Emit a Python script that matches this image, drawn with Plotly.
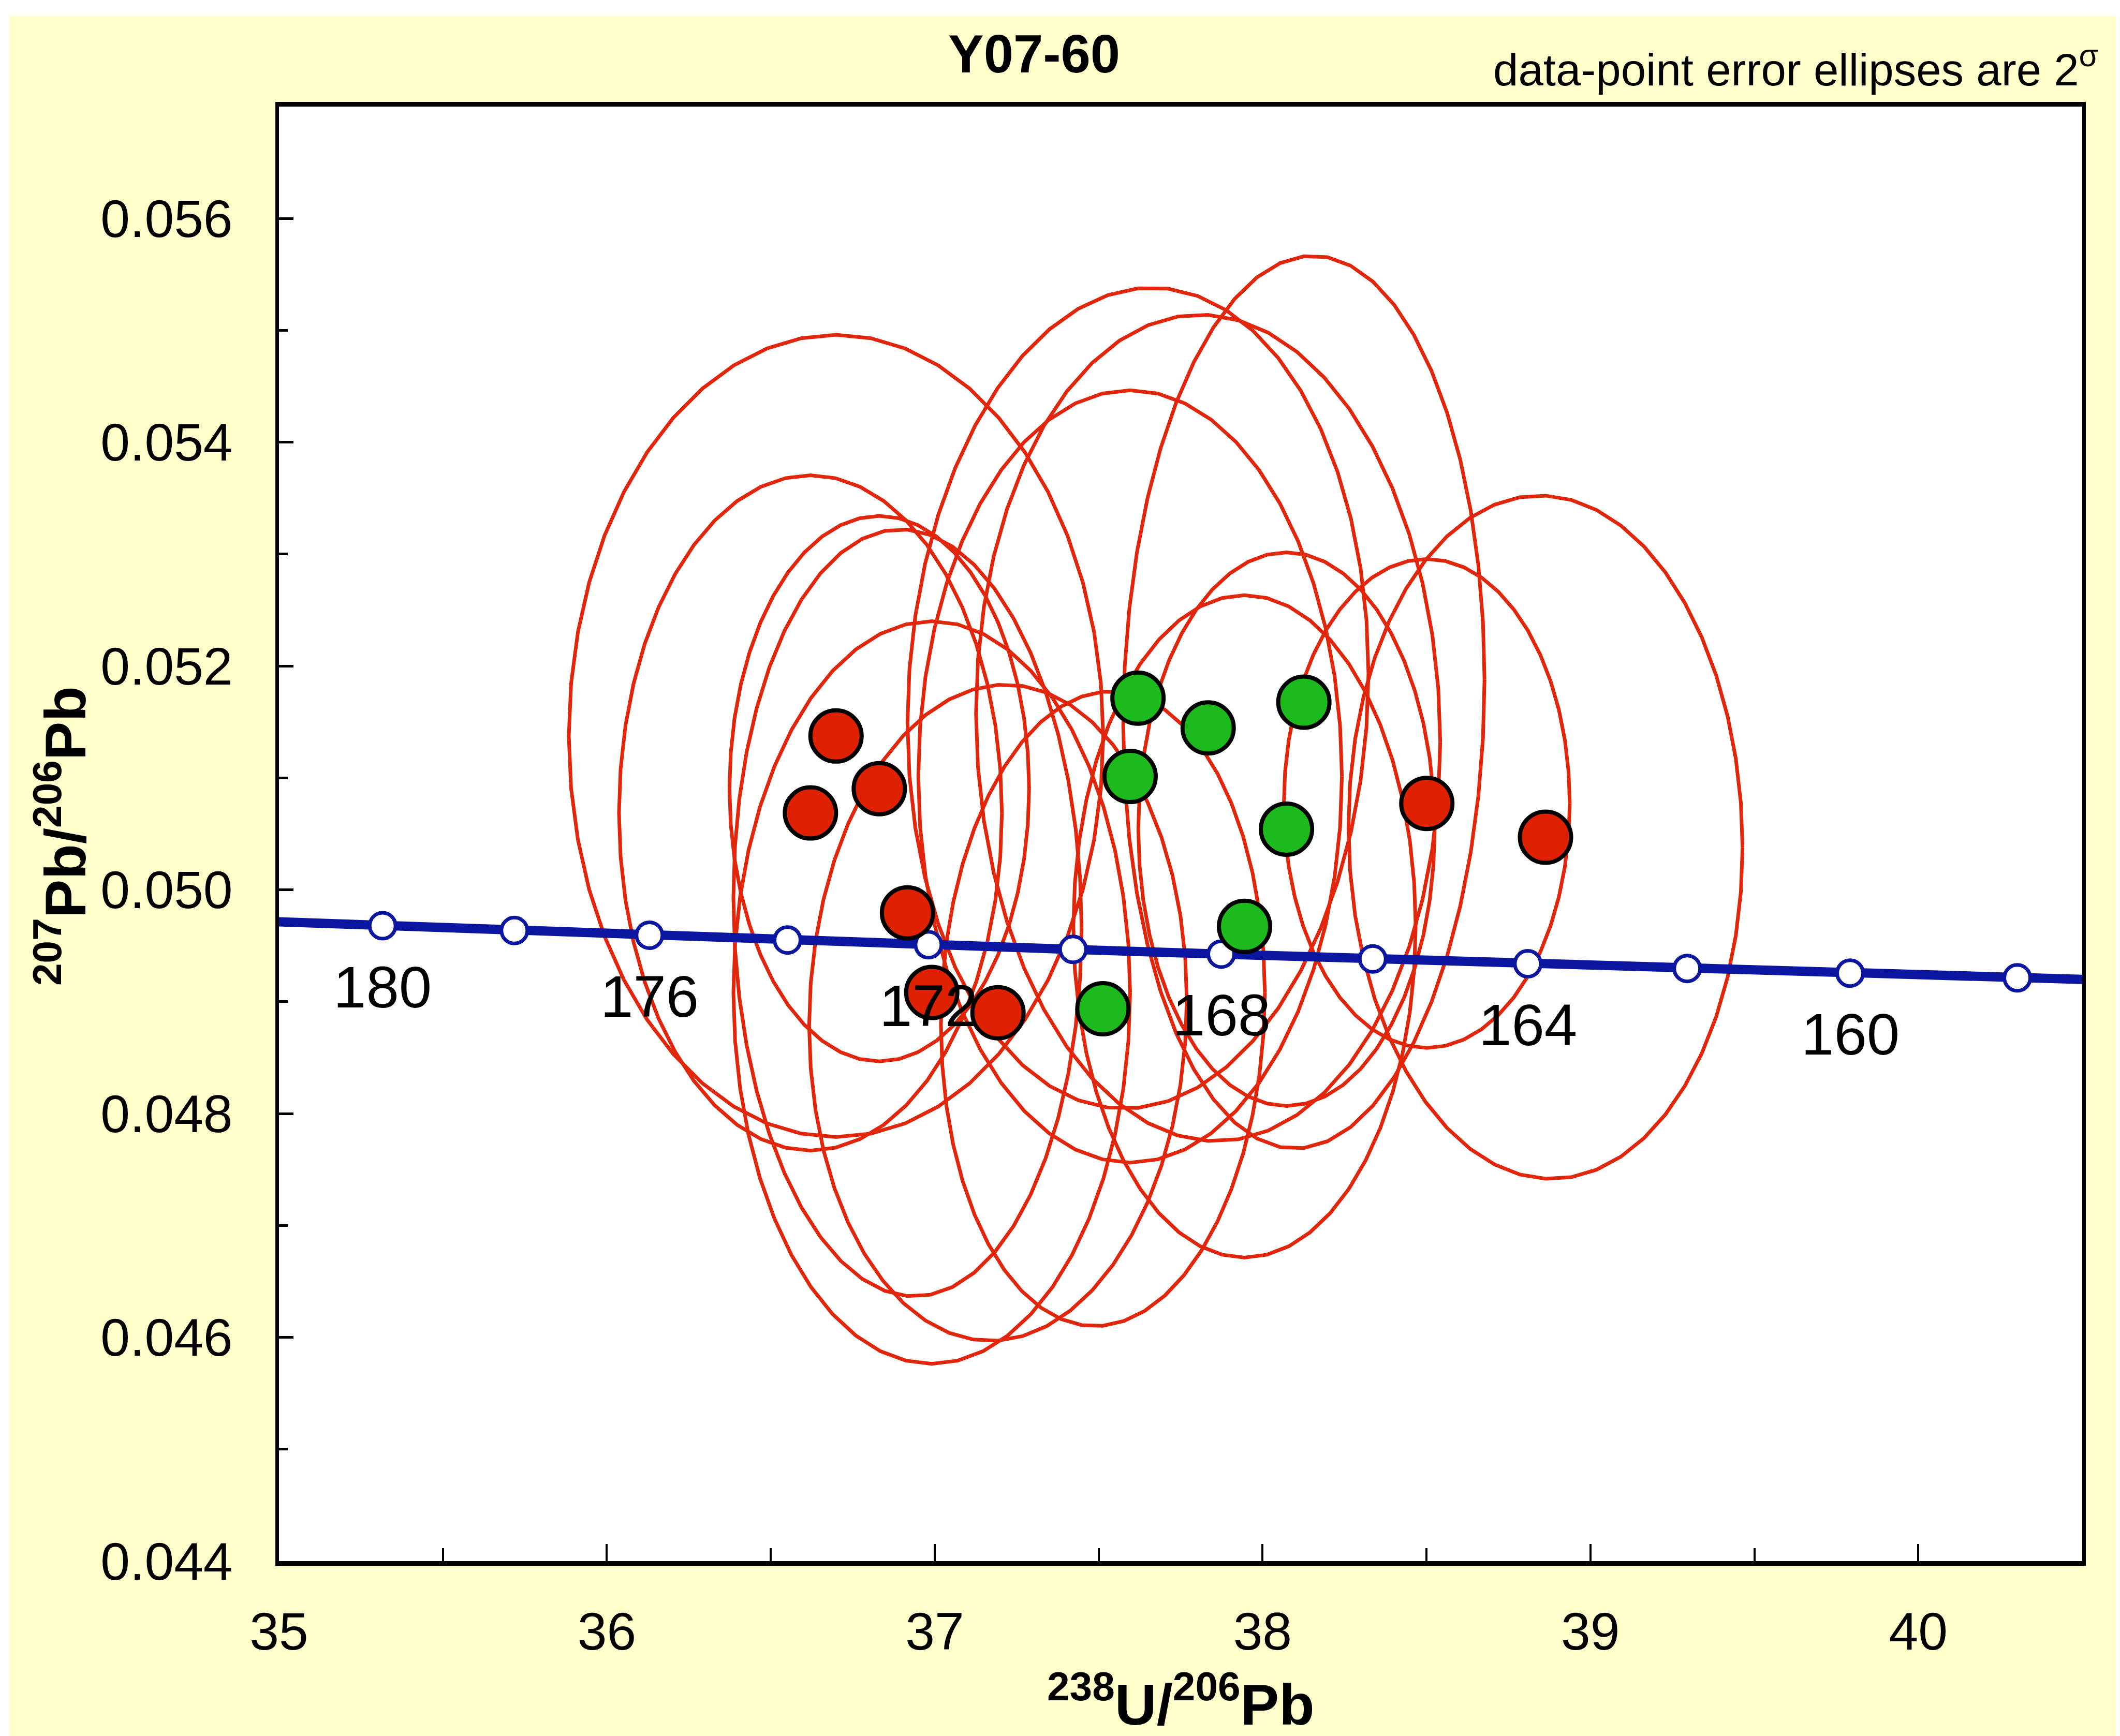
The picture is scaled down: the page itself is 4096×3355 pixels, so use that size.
import numpy as np
import plotly.graph_objects as go

# ---------------- data ----------------
# Concordia curve (Tera-Wasserburg), ages in Ma
conc_age = [182, 180, 178, 176, 174, 172, 170, 168, 166, 164, 162, 160, 158, 156]
conc_x = [34.922, 35.316, 35.718, 36.130, 36.551, 36.981, 37.422, 37.874,
          38.336, 38.809, 39.295, 39.792, 40.302, 40.825]
conc_y = [0.049722, 0.049679, 0.049636, 0.049594, 0.049551, 0.049509, 0.049467,
          0.049425, 0.049382, 0.049339, 0.049297, 0.049255, 0.049213, 0.049171]
marker_ages = [180, 178, 176, 174, 172, 170, 168, 166, 164, 162, 160, 158]
label_ages = [180, 176, 172, 168, 164, 160]

# Data points (238U/206Pb, 207Pb/206Pb) with 2-sigma ellipse half-extents
pt_x = [36.621, 36.699, 36.831, 36.917, 36.991, 37.193, 38.501, 38.863,
        37.620, 37.596, 37.834, 38.126, 38.073, 37.945, 37.513]
pt_y = [0.050687, 0.051375, 0.050904, 0.049794, 0.049082, 0.048901, 0.050772, 0.050470,
        0.051713, 0.051013, 0.051447, 0.051677, 0.050542, 0.049673, 0.048937]
pt_ex = [0.584, 0.815, 0.457, 0.531, 0.605, 0.576, 0.436, 0.601,
         0.703, 0.646, 0.708, 0.551, 0.452, 0.522, 0.494]
pt_ey = [0.003018, 0.003585, 0.002438, 0.003428, 0.003319, 0.002933, 0.002185, 0.003054,
         0.003669, 0.003452, 0.003694, 0.003990, 0.002474, 0.002960, 0.002837]
pt_rho = [0.0, 0.0, 0.0, -0.04, 0.0, 0.04, 0.0, -0.03,
          0.06, 0.0, -0.035, 0.05, 0.0, 0.0, 0.05]
pt_group = ['red'] * 8 + ['green'] * 7

x_ticks = [35, 36, 37, 38, 39, 40]
y_ticks = [0.044, 0.046, 0.048, 0.050, 0.052, 0.054, 0.056]

# ---------------- styling ----------------
W, H = 4096, 3355
ML, MR, MT, MB = 531, 81, 198, 346
PW, PH = W - ML - MR, H - MT - MB

def px_x(p):
    return (p - ML) / PW

def px_y(p):
    return (H - MB - p) / PH

FONT = "Arial, 'Liberation Sans', sans-serif"
RED_FILL = "#DE2200"
GREEN_FILL = "#1CBA1C"
ELL_COLOR = "#E2260C"
BLUE = "#0A16A0"

fig = go.Figure()

# error ellipses
t = np.linspace(0, 2 * np.pi, 49)
for cx, cy, ex, ey, r in zip(pt_x, pt_y, pt_ex, pt_ey, pt_rho):
    ex_pts = cx + ex * np.cos(t)
    ey_pts = cy + ey * (r * np.cos(t) + np.sqrt(1 - r * r) * np.sin(t))
    fig.add_trace(go.Scatter(x=ex_pts, y=ey_pts, mode="lines",
                             line=dict(color=ELL_COLOR, width=7),
                             hoverinfo="skip", showlegend=False))

# concordia line
fig.add_trace(go.Scatter(x=conc_x, y=conc_y, mode="lines",
                         line=dict(color=BLUE, width=18),
                         hoverinfo="skip", showlegend=False))

# concordia age markers
mx = [x for a, x in zip(conc_age, conc_x) if a in marker_ages]
my = [y for a, y in zip(conc_age, conc_y) if a in marker_ages]
fig.add_trace(go.Scatter(x=mx, y=my, mode="markers",
                         marker=dict(symbol="circle", size=50, color="white",
                                     line=dict(color=BLUE, width=7)),
                         hoverinfo="skip", showlegend=False))

# data points
for grp, col in (("red", RED_FILL), ("green", GREEN_FILL)):
    xs = [x for x, g in zip(pt_x, pt_group) if g == grp]
    ys = [y for y, g in zip(pt_y, pt_group) if g == grp]
    fig.add_trace(go.Scatter(x=xs, y=ys, mode="markers",
                             marker=dict(symbol="circle", size=99, color=col,
                                         line=dict(color="black", width=8)),
                             hoverinfo="skip", showlegend=False))

annotations = []
# age labels
for a, x, y in zip(conc_age, conc_x, conc_y):
    if a in label_ages:
        annotations.append(dict(x=x, y=y, xref="x", yref="y", text=str(a),
                                showarrow=False, yshift=-118,
                                font=dict(family=FONT, size=114, color="black")))

# titles
annotations.append(dict(x=px_x(1990), y=px_y(96), xref="paper", yref="paper",
                        text="<b>Y07-60</b>", showarrow=False,
                        xanchor="center", yanchor="middle",
                        font=dict(family=FONT, size=103, color="black")))
annotations.append(dict(x=px_x(4048), y=px_y(120), xref="paper", yref="paper",
                        text="data-point error ellipses are 2<sup>σ</sup>",
                        showarrow=False, xanchor="right", yanchor="middle",
                        font=dict(family=FONT, size=87, color="black")))
annotations.append(dict(x=0.5, y=px_y(3278), xref="paper", yref="paper",
                        text="<b><sup>238</sup>U/<sup>206</sup>Pb</b>",
                        showarrow=False, xanchor="center", yanchor="middle",
                        font=dict(family=FONT, size=112, color="black")))
annotations.append(dict(x=px_x(110), y=px_y(1608), xref="paper", yref="paper",
                        text="<b><sup>207</sup>Pb/<sup>206</sup>Pb</b>",
                        showarrow=False, xanchor="center", yanchor="middle",
                        textangle=-90,
                        font=dict(family=FONT, size=112, color="black")))

shapes = [
    dict(type="rect", xref="paper", yref="paper",
         x0=px_x(0), x1=px_x(W), y0=px_y(23), y1=px_y(0),
         fillcolor="white", line=dict(width=0), layer="below"),
    dict(type="rect", xref="paper", yref="paper",
         x0=px_x(0), x1=px_x(10), y0=px_y(H), y1=px_y(0),
         fillcolor="white", line=dict(width=0), layer="below"),
]

fig.update_layout(
    width=W, height=H,
    margin=dict(l=ML, r=MR, t=MT, b=MB, pad=0),
    paper_bgcolor="#FFFFCC",
    plot_bgcolor="white",
    showlegend=False,
    annotations=annotations,
    shapes=shapes,
    xaxis=dict(range=[35, 40.5], tickvals=x_ticks, ticktext=[str(v) for v in x_ticks],
               ticks="inside", ticklen=33, tickwidth=4, tickcolor="black",
               showline=True, linewidth=9, linecolor="black", mirror=True,
               showgrid=False, zeroline=False, ticklabelstandoff=40,
               tickfont=dict(family=FONT, size=102, color="black"),
               minor=dict(ticks="inside", ticklen=25, tickwidth=4, tickcolor="black",
                          tick0=35, dtick=0.5, showgrid=False)),
    yaxis=dict(range=[0.044, 0.057], tickvals=y_ticks,
               ticktext=["%.3f" % v for v in y_ticks],
               ticks="inside", ticklen=28, tickwidth=5, tickcolor="black",
               showline=True, linewidth=7, linecolor="black", mirror=True,
               showgrid=False, zeroline=False, ticklabelstandoff=62,
               tickfont=dict(family=FONT, size=102, color="black"),
               minor=dict(ticks="inside", ticklen=17, tickwidth=5, tickcolor="black",
                          tick0=0.044, dtick=0.001, showgrid=False)),
)

fig.write_html("out.html")
